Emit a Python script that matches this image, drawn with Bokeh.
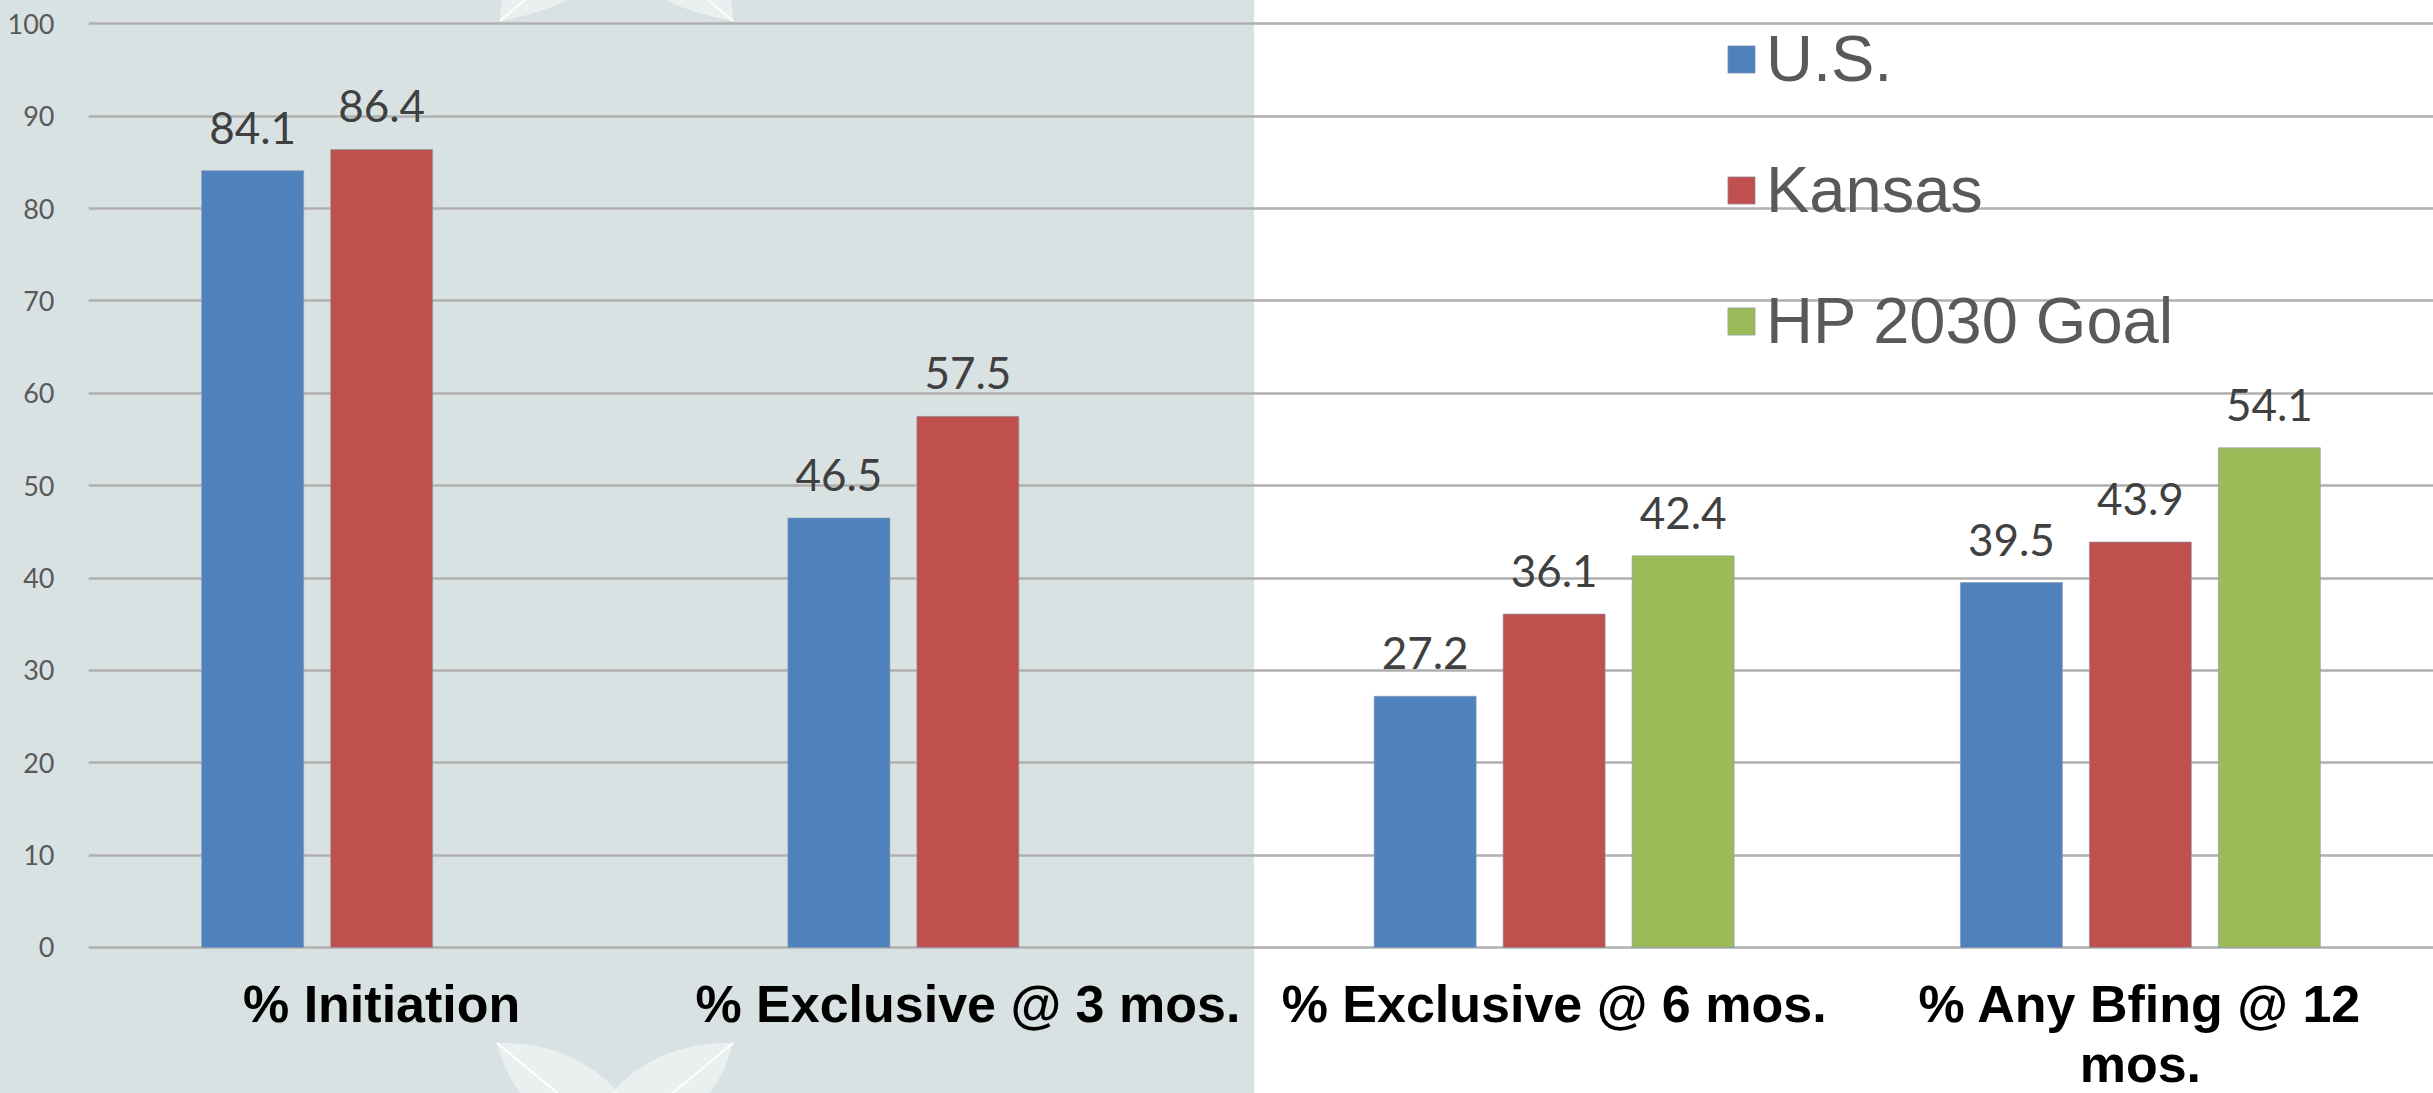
import urllib.parse
from bokeh.plotting import figure
from bokeh.models import (ColumnDataSource, FactorRange, Range1d, FixedTicker,
                          Legend, LegendItem)
from bokeh.transform import dodge
from bokeh.core.properties import value
from bokeh.embed import file_html
from bokeh.resources import INLINE

# ---- data ----
categories = ["% Initiation", "% Exclusive @ 3 mos.", "% Exclusive @ 6 mos.", "% Any Bfing @ 12 mos."]
tick_line1 = ["% Initiation", "% Exclusive @ 3 mos.", "% Exclusive @ 6 mos.", "% Any Bfing @ 12"]
tick_line2 = ["", "", "", "mos."]
series_names = ["U.S.", "Kansas", "HP 2030 Goal"]
us = [84.1, 46.5, 27.2, 39.5]
kansas = [86.4, 57.5, 36.1, 43.9]
hp2030 = [None, None, 42.4, 54.1]
colors = ["#4f81bd", "#c0504d", "#9bbb59"]
y_ticks = [0, 10, 20, 30, 40, 50, 60, 70, 80, 90, 100]


def clean(vals):
    return [float("nan") if v is None else v for v in vals]


def labels(vals):
    return ["" if v is None else f"{v:.1f}" for v in vals]


src = ColumnDataSource(dict(
    cat=categories,
    us=clean(us), kansas=clean(kansas), hp=clean(hp2030),
    us_lbl=labels(us), kansas_lbl=labels(kansas), hp_lbl=labels(hp2030),
))
cat_src = ColumnDataSource(dict(cat=categories, line1=tick_line1, line2=tick_line2,
                                base=[0] * len(categories)))

# frame reaches the bottom of the canvas; category labels are drawn below value 0
p = figure(width=2433, height=1093, output_backend="svg", toolbar_location=None,
           x_range=FactorRange(*categories, range_padding=0),
           y_range=Range1d(-15.81, 100.25), x_axis_location=None,
           min_border_left=88, min_border_right=0, min_border_top=21, min_border_bottom=0)

# slide background: two-tone panel with faint leaf decorations
leaf_svg = (
    "<svg xmlns='http://www.w3.org/2000/svg' width='2433' height='1093'>"
    "<g fill='white' fill-opacity='0.45'>"
    "<path d='M497,1043 Q610,1040 660,1160 Q520,1140 497,1043 Z'/>"
    "<path d='M733,1043 Q620,1040 570,1160 Q710,1140 733,1043 Z'/>"
    "<path d='M500,21 Q500,-70 640,-90 Q620,0 500,21 Z'/>"
    "<path d='M733,21 Q733,-70 593,-90 Q613,0 733,21 Z'/>"
    "</g>"
    "<g stroke='white' stroke-width='2'>"
    "<line x1='497' y1='1043' x2='590' y2='1120'/>"
    "<line x1='733' y1='1043' x2='640' y2='1120'/>"
    "<line x1='500' y1='21' x2='560' y2='-30'/>"
    "<line x1='733' y1='21' x2='673' y2='-30'/>"
    "</g></svg>"
)
leaf_url = "url(\"data:image/svg+xml;utf8," + urllib.parse.quote(leaf_svg) + "\")"

p.border_fill_color = None
p.background_fill_color = None
p.outline_line_color = None
p.styles = {"background": leaf_url + " no-repeat, linear-gradient(to right, #d9e2e3 1254px, #ffffff 1254px)"}

cols = ["us", "kansas", "hp"]
offsets = [-0.22, 0.0, 0.22]
renderers = []
for col, off, color in zip(cols, offsets, colors):
    r = p.vbar(x=dodge("cat", off, range=p.x_range), top=col, width=0.174, source=src,
               fill_color=color, line_color="#8a9bb0", line_width=1, line_alpha=0.6)
    renderers.append(r)
    p.text(x=dodge("cat", off, range=p.x_range), y=col, text=col + "_lbl", source=src,
           text_align="center", text_baseline="alphabetic", y_offset=-43,
           text_font=value("Lato"), text_font_size="44px", text_color="#404040")

# category labels (two lines for the wrapped one)
for col, yoff in (("line1", 57), ("line2", 117)):
    p.text(x="cat", y="base", text=col, source=cat_src, text_align="center",
           text_baseline="alphabetic", y_offset=yoff,
           text_font=value("Liberation Sans"), text_font_style="bold",
           text_font_size="52px", text_color="#000000")

# y axis
ticker = FixedTicker(ticks=y_ticks)
p.yaxis.ticker = ticker
p.ygrid.ticker = ticker
p.yaxis.axis_line_color = None
p.yaxis.major_tick_line_color = None
p.yaxis.minor_tick_line_color = None
p.yaxis.major_label_text_font = "Lato"
p.yaxis.major_label_text_font_size = "27px"
p.yaxis.major_label_text_color = "#595959"
p.yaxis.major_label_standoff = 28

p.xgrid.grid_line_color = None
p.ygrid.grid_line_color = "#b0b0b0"
p.ygrid.grid_line_width = 2.5

legend = Legend(items=[LegendItem(label=n, renderers=[r]) for n, r in zip(series_names, renderers)],
                location=(1636, 589 + 146), orientation="vertical",
                label_text_font="Liberation Sans", label_text_font_size="65px",
                label_text_color="#595959",
                glyph_width=34, glyph_height=34, spacing=56, padding=0, margin=0,
                label_standoff=8, border_line_color=None, background_fill_alpha=0)
p.add_layout(legend)

open("out.html", "w").write(file_html(p, INLINE))
